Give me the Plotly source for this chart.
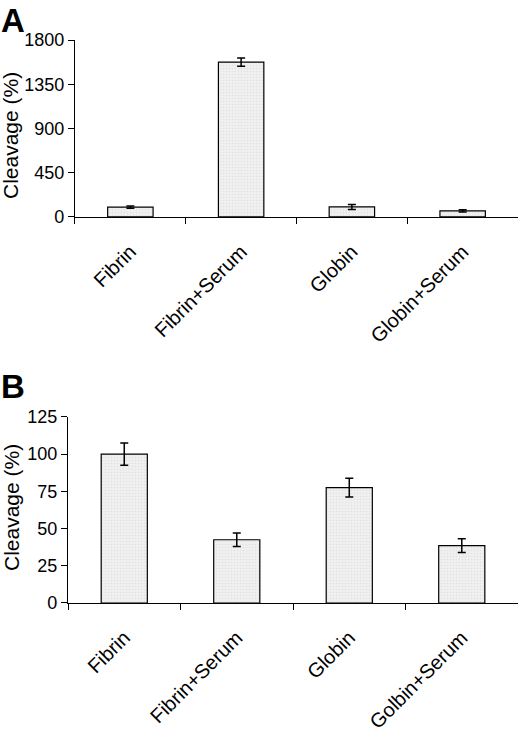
import plotly.graph_objects as go

# panel A
cats_a = ['Fibrin', 'Fibrin+Serum', 'Globin', 'Globin+Serum']
vals_a = [100, 1575, 102, 62]
err_a = [12, 42, 26, 12]

# panel B
cats_b = ['Fibrin', 'Fibrin+Serum', 'Globin', 'Golbin+Serum']
vals_b = [100, 42.5, 77.5, 38.5]
err_b = [7.5, 4.5, 6.3, 4.6]

FONT = 'Liberation Sans, Arial, sans-serif'

bar_style = dict(
    color='#eeeeee',
    line=dict(color='black', width=1.2),
    pattern=dict(shape='.', fgcolor='#d4d4d4', bgcolor='#f0f0f0', size=3, solidity=0.25),
)
err_style = dict(type='data', color='black', thickness=1.5, width=4)

fig = go.Figure()
fig.add_trace(go.Bar(x=cats_a, y=vals_a, error_y=dict(array=err_a, **err_style),
                     marker=bar_style, xaxis='x', yaxis='y', showlegend=False))
fig.add_trace(go.Bar(x=cats_b, y=vals_b, error_y=dict(array=err_b, **err_style),
                     marker=bar_style, xaxis='x2', yaxis='y2', showlegend=False))

xcommon = dict(showline=True, linecolor='black', linewidth=1.2, ticks='outside', tickson='boundaries',
               ticklen=6, tickcolor='black', tickwidth=1.2, tickangle=-45, automargin=False,
               ticklabelstandoff=14,
               tickfont=dict(family=FONT, size=20, color='black'), showgrid=False, zeroline=False)
ycommon = dict(showline=True, linecolor='black', linewidth=1.2, ticks='outside', ticklen=6,
               tickcolor='black', tickwidth=1.2, showgrid=False, zeroline=False, automargin=False,
               tickfont=dict(family=FONT, size=18, color='black'))

# y titles as annotations so they can sit where the original has them
ytitle = dict(text='Cleavage (%)', xref='paper', yref='paper', x=11 / 520, xanchor='center',
              yanchor='middle', textangle=-90, showarrow=False,
              font=dict(family=FONT, size=21, color='black'))
letter = dict(xref='paper', yref='paper', x=0, xanchor='left', yanchor='top', showarrow=False,
              font=dict(family=FONT, size=33, color='black'), xshift=-1)

fig.update_layout(
    width=520, height=734,
    margin=dict(l=0, r=0, t=0, b=0),
    paper_bgcolor='white', plot_bgcolor='white',
    bargap=0.59,
    xaxis=dict(domain=[0.1442, 0.9962], anchor='y', **xcommon),
    yaxis=dict(domain=[0.7044, 0.9455], anchor='x', range=[0, 1800],
               tickvals=[0, 450, 900, 1350, 1800], **ycommon),
    xaxis2=dict(domain=[0.1308, 0.9962], anchor='y2', **xcommon),
    yaxis2=dict(domain=[0.1785, 0.4319], anchor='x2', range=[0, 125],
                tickvals=[0, 25, 50, 75, 100, 125], **ycommon),
    annotations=[
        dict(ytitle, y=1 - 136 / 734),
        dict(ytitle, y=1 - 508 / 734),
        dict(letter, text='<b>A</b>', y=1),
        dict(letter, text='<b>B</b>', y=1 - 370 / 734, yshift=4),
    ],
)

# drop the default page margin so the figure sits at the window's corner
fig.write_html('out.html', config={'displayModeBar': False},
               post_script="document.body.style.margin='0';")
